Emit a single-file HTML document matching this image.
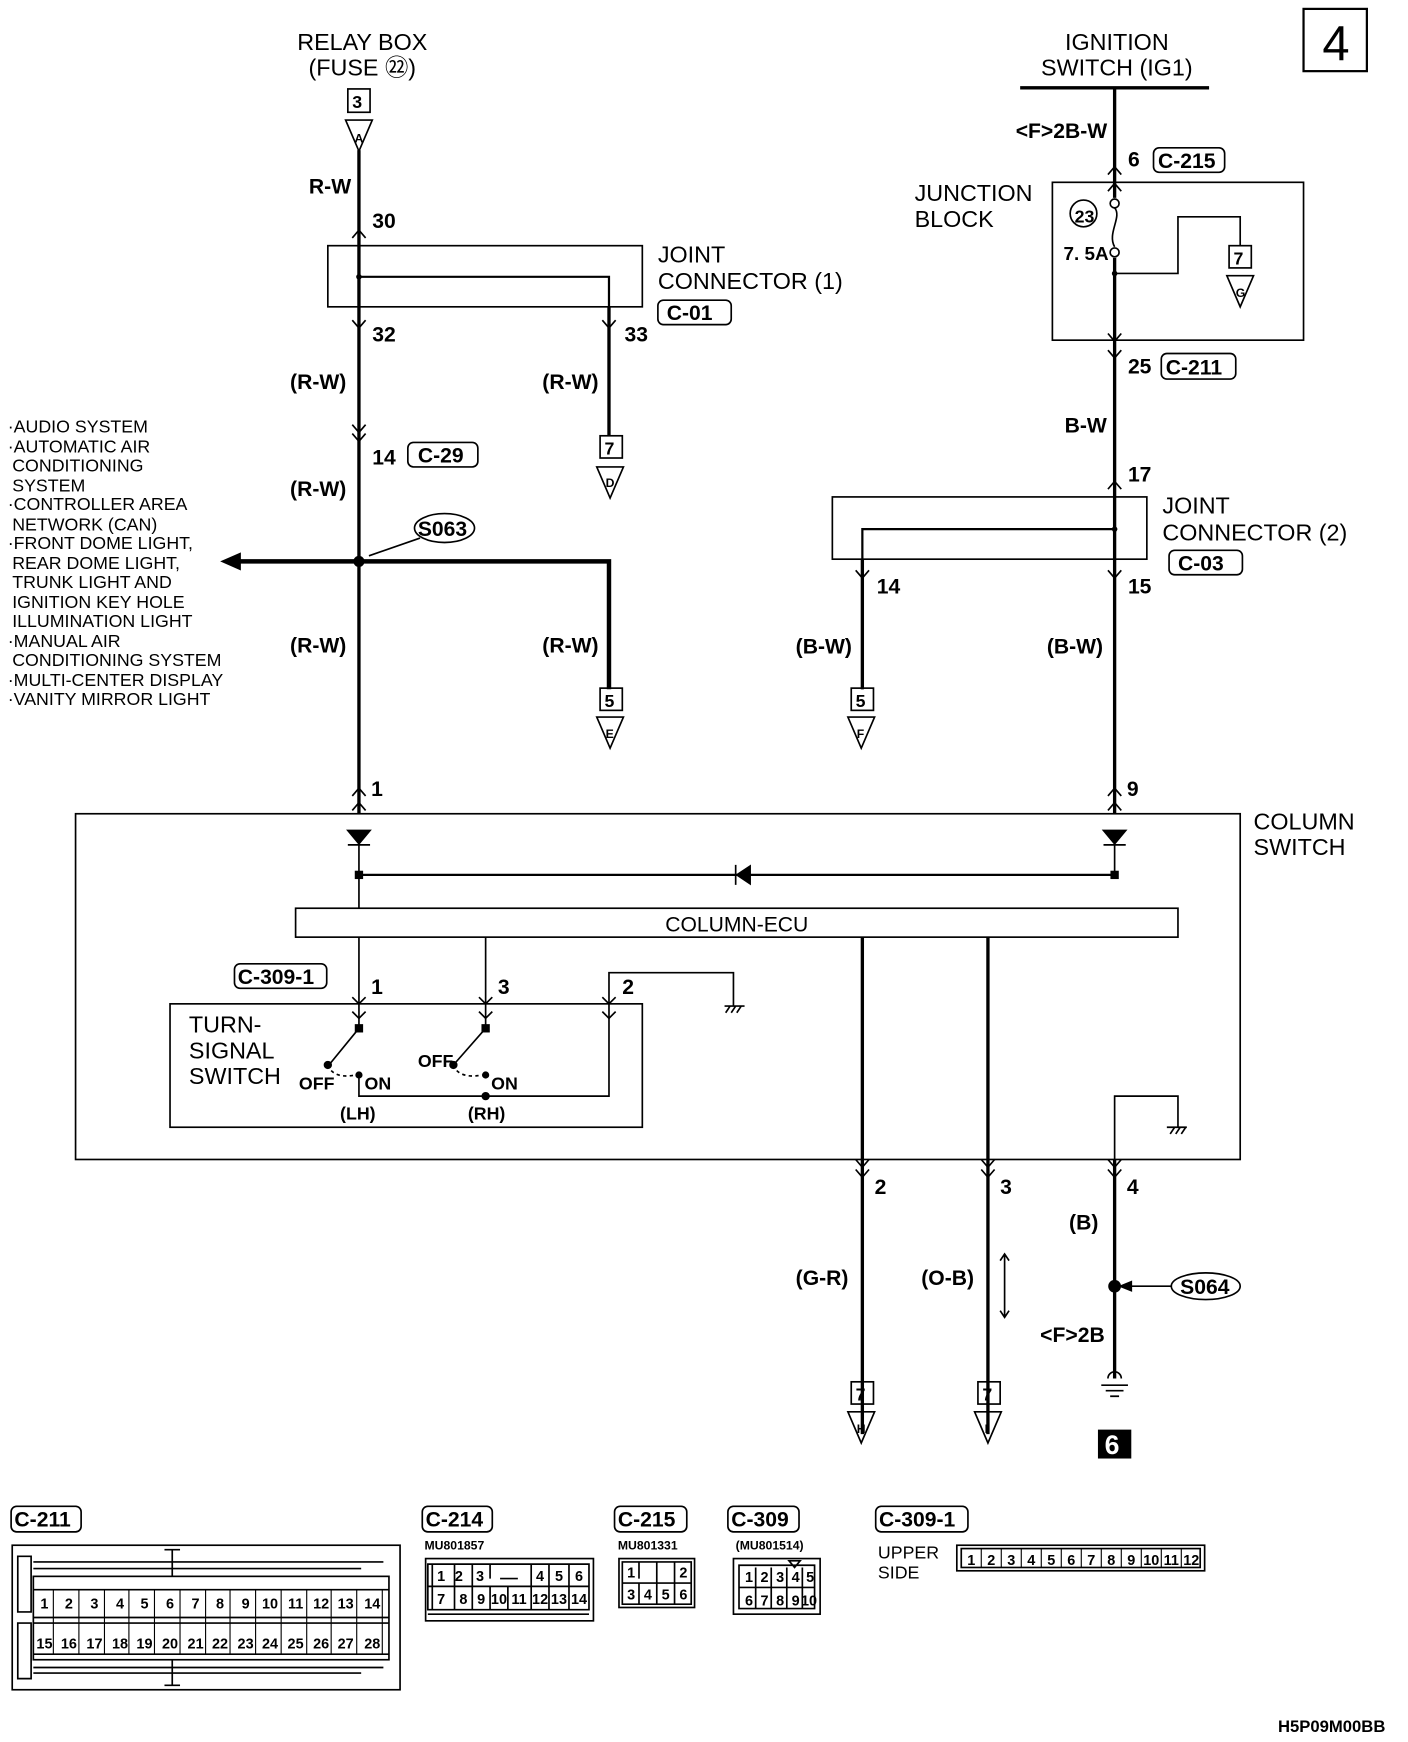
<!DOCTYPE html>
<html><head><meta charset="utf-8"><style>
html,body{margin:0;padding:0;background:#fff}
svg{display:block}
text{font-family:"Liberation Sans",sans-serif;fill:#000}
.b{font-weight:bold;font-family:"Liberation Sans Narrow","Liberation Sans",sans-serif}
</style></head><body>
<svg width="1408" height="1742" viewBox="0 0 1267 1567" preserveAspectRatio="none" xmlns="http://www.w3.org/2000/svg">
<g fill="none" stroke="#000" stroke-width="1.5">
<rect x="1173" y="8" width="57" height="56" stroke-width="2"/>
<line x1="323" y1="135" x2="323" y2="732" stroke-width="3"/>
<rect x="313" y="80" width="20" height="21"/>
<path d="M311 108 L335 108 L323 136 Z"/>
<rect x="295" y="221" width="283" height="55"/>
<path d="M323 249 H548 V392" stroke-width="2"/>
<path d="M548 276 V392" stroke-width="3"/>
<rect x="540" y="392" width="20" height="20"/>
<path d="M537 420 L561 420 L549 448 Z"/>
<path d="M317 214 L323 207 L329 214 M317 288 L323 295 L329 288 M542 288 L548 295 L554 288 M317 382 L323 389 L329 382 M317 390 L323 397 L329 390 M317 716 L323 709 L329 716"/>
<ellipse cx="400" cy="475" rx="27" ry="13"/>
<line x1="378" y1="484" x2="332" y2="500"/>
<path d="M325 505 H548 V620" stroke-width="4"/>
<line x1="215" y1="505" x2="323" y2="505" stroke-width="4"/>
<path d="M200 505 L216 498 L216 512 Z" fill="#000"/>
<rect x="540" y="619" width="20" height="20"/>
<path d="M537 645 L561 645 L549 673 Z"/>
<line x1="918" y1="79" x2="1088" y2="79" stroke-width="3"/>
<line x1="1003" y1="79" x2="1003" y2="178" stroke-width="3"/>
<line x1="1003" y1="232" x2="1003" y2="732" stroke-width="3"/>
<path d="M1003 187 C1010 195 996 210 1003 222"/>
<circle cx="1003" cy="183" r="4" fill="#fff"/>
<circle cx="1003" cy="227" r="4" fill="#fff"/>
<circle cx="975" cy="192" r="12"/>
<rect x="947" y="164" width="226" height="142"/>
<path d="M1003 246 H1060 V195 H1116 V221"/>
<rect x="1106" y="221" width="20" height="20"/>
<path d="M1104 248 L1128 248 L1116 276 Z"/>
<path d="M997 157 L1003 150 L1009 157 M997 172 L1003 165 L1009 172 M997 300 L1003 307 L1009 300 M997 315 L1003 322 L1009 315 M997 440 L1003 433 L1009 440 M997 513 L1003 520 L1009 513 M770 513 L776 520 L782 513 M997 716 L1003 709 L1009 716"/>
<rect x="1045" y="318" width="67" height="23" rx="5"/>
<rect x="1038" y="133" width="64" height="22" rx="5"/>
<rect x="592" y="270" width="66" height="22" rx="5"/>
<rect x="367" y="398" width="63" height="22" rx="5"/>
<rect x="1052" y="495" width="66" height="22" rx="5"/>
<rect x="749" y="447" width="283" height="56"/>
<path d="M1003 476 H776 V620" stroke-width="2"/>
<path d="M776 503 V620" stroke-width="3"/>
<rect x="766" y="619" width="20" height="20"/>
<path d="M763 645 L787 645 L775 673 Z"/>
<rect x="68" y="732" width="1048" height="311"/>
<path d="M317 729 L323 722 L329 729 M997 729 L1003 722 L1009 729"/>
<path d="M313 747 L333 747 L323 759 Z M313 760 H333 M993 747 L1013 747 L1003 759 Z M993 760 H1013 M675 779 L675 795 L663 787 Z M662 778 V796" fill="#000"/>
<line x1="323" y1="760" x2="323" y2="817"/>
<line x1="1003" y1="760" x2="1003" y2="787"/>
<line x1="323" y1="787" x2="1003" y2="787" stroke-width="2"/>
<rect x="320" y="784" width="6" height="6" fill="#000"/>
<rect x="1000" y="784" width="6" height="6" fill="#000"/>
<rect x="266" y="817" width="794" height="26"/>
<line x1="323" y1="843" x2="323" y2="925"/>
<line x1="437" y1="843" x2="437" y2="925"/>
<line x1="776" y1="843" x2="776" y2="1290" stroke-width="3"/>
<line x1="889" y1="843" x2="889" y2="1290" stroke-width="3"/>
<path d="M548 985 V875 H660 V905"/>
<path d="M653 911 L657 905 M658 911 L662 905 M663 911 L667 905 M652 905 H670"/>
<path d="M1003 1043 V986 H1060 V1014"/>
<path d="M1053 1020 L1057 1014 M1058 1020 L1062 1014 M1063 1020 L1067 1014 M1050 1014 H1068"/>
<line x1="1003" y1="1043" x2="1003" y2="1240" stroke-width="3"/>
<rect x="211" y="867" width="83" height="22" rx="5"/>
<rect x="153" y="903" width="425" height="111"/>
<path d="M317 897 L323 903 L329 897 M317 910 L323 916 L329 910 M431 897 L437 903 L443 897 M431 910 L437 916 L443 910 M542 897 L548 903 L554 897 M542 910 L548 916 L554 910"/>
<path d="M323 925 L296 958 M437 925 L408 958"/>
<rect x="320" y="922" width="6" height="6" fill="#000"/>
<rect x="434" y="922" width="6" height="6" fill="#000"/>
<circle cx="295" cy="958" r="3" fill="#000"/>
<circle cx="408" cy="958" r="3" fill="#000"/>
<path d="M298 963 Q305 970 320 967 M411 963 Q418 970 434 967" stroke-dasharray="3,3"/>
<circle cx="323" cy="967" r="2.5" fill="#000"/>
<circle cx="437" cy="967" r="2.5" fill="#000"/>
<path d="M323 967 V986 H548 V985"/>
<circle cx="437" cy="986" r="3" fill="#000"/>
<path d="M770 1043 L776 1050 L782 1043 M770 1052 L776 1059 L782 1052 M883 1043 L889 1050 L895 1043 M883 1052 L889 1059 L895 1052 M997 1043 L1003 1050 L1009 1043 M997 1052 L1003 1059 L1009 1052"/>
<path d="M904 1128 V1185 M900 1134 L904 1128 L908 1134 M900 1179 L904 1185 L908 1179"/>
<circle cx="1003" cy="1157" r="5" fill="#000"/>
<ellipse cx="1085" cy="1157" rx="31" ry="12"/>
<line x1="1054" y1="1157" x2="1016" y2="1157"/>
<path d="M1008 1157 L1018 1153 L1018 1161 Z" fill="#000"/>
<path d="M997 1240 A6 6 0 0 1 1009 1240 M991 1246 H1015 M995 1251 H1011 M999 1256 H1007"/>
<rect x="766" y="1243" width="20" height="20"/>
<path d="M763 1270 L787 1270 L775 1298 Z"/>
<rect x="880" y="1243" width="20" height="20"/>
<path d="M877 1270 L901 1270 L889 1298 Z"/>
<rect x="10" y="1355" width="63" height="23" rx="5"/>
<rect x="380" y="1355" width="63" height="23" rx="5"/>
<rect x="553" y="1355" width="65" height="23" rx="5"/>
<rect x="655" y="1355" width="64" height="23" rx="5"/>
<rect x="788" y="1355" width="83" height="23" rx="5"/>
<rect x="11" y="1390" width="349" height="130"/>
<rect x="30" y="1418" width="320" height="75"/>
<path d="M16 1400 H28 V1450 H16 Z M16 1460 H28 V1510 H16 Z M30 1405 H345 M30 1411 H325 M30 1500 H345 M30 1505 H325 M148 1394 H162 M148 1516 H162 M155 1394 V1418 M155 1493 V1516"/>
<path d="M30 1455 H350 M30 1460 H350 M30 1430 H350 M30 1488 H350"/>
<rect x="383" y="1402" width="151" height="56"/>
<path d="M385 1407 H530 V1448 H385 Z M385 1427 H530 M389 1407 V1448 M409 1407 V1448 M425 1407 V1448 M441 1427 V1448 M457 1427 V1448 M478 1407 V1448 M494 1407 V1448 M512 1407 V1448 M441 1407 V1420 M478 1407 V1420 M450 1420 H466 M385 1452 H530"/>
<rect x="557" y="1402" width="68" height="44"/>
<path d="M560 1405 H622 V1443 H560 Z M560 1424 H622 M575 1424 V1443 M591 1405 V1443 M607 1405 V1443 M575 1405 V1420"/>
<rect x="660" y="1402" width="78" height="50"/>
<path d="M665 1408 H733 V1447 H665 Z M665 1428 H733 M680 1410 V1447 M694 1410 V1447 M708 1410 V1447 M722 1410 V1447 M710 1404 L720 1404 L715 1410 Z"/>
<rect x="861" y="1390" width="223" height="23"/>
<rect x="865" y="1393" width="215" height="17"/>
</g>
<g stroke="#000" stroke-width="1">
<path d="M48 1430 V1488 M71 1430 V1488 M94 1430 V1488 M116 1430 V1488 M139 1430 V1488 M162 1430 V1488 M185 1430 V1488 M207 1430 V1488 M230 1430 V1488 M253 1430 V1488 M276 1430 V1488 M298 1430 V1488 M321 1430 V1488 M344 1430 V1488"/>
<path d="M883 1393 V1410 M901 1393 V1410 M919 1393 V1410 M937 1393 V1410 M955 1393 V1410 M973 1393 V1410 M991 1393 V1410 M1009 1393 V1410 M1027 1393 V1410 M1045 1393 V1410 M1063 1393 V1410"/>
</g>
<circle cx="323" cy="505" r="5" fill="#000"/>
<circle cx="323" cy="249" r="2.5" fill="#000"/>
<circle cx="1003" cy="246" r="2.5" fill="#000"/>
<circle cx="1003" cy="476" r="2.5" fill="#000"/>
<rect x="988" y="1286" width="30" height="26" fill="#000"/>
<g font-size="21">
<text x="1190" y="54" font-size="44">4</text>
<text x="326" y="45" text-anchor="middle">RELAY BOX</text>
<text x="326" y="68" text-anchor="middle">(FUSE ㉒)</text>
<text x="1005" y="45" text-anchor="middle">IGNITION</text>
<text x="1005" y="68" text-anchor="middle">SWITCH (IG1)</text>
<text x="592" y="236">JOINT</text>
<text x="592" y="260">CONNECTOR (1)</text>
<text x="823" y="181">JUNCTION</text>
<text x="823" y="204">BLOCK</text>
<text x="1046" y="462">JOINT</text>
<text x="1046" y="486">CONNECTOR (2)</text>
<text x="1128" y="746">COLUMN</text>
<text x="1128" y="769">SWITCH</text>
<text x="663" y="838" text-anchor="middle" font-size="19">COLUMN-ECU</text>
<text x="170" y="929">TURN-</text>
<text x="170" y="952">SIGNAL</text>
<text x="170" y="975">SWITCH</text>
</g>
<g font-size="16">
<text x="7" y="389">·AUDIO SYSTEM</text>
<text x="7" y="407">·AUTOMATIC AIR</text>
<text x="11" y="424">CONDITIONING</text>
<text x="11" y="442">SYSTEM</text>
<text x="7" y="459">·CONTROLLER AREA</text>
<text x="11" y="477">NETWORK (CAN)</text>
<text x="7" y="494">·FRONT DOME LIGHT,</text>
<text x="11" y="512">REAR DOME LIGHT,</text>
<text x="11" y="529">TRUNK LIGHT AND</text>
<text x="11" y="547">IGNITION KEY HOLE</text>
<text x="11" y="564">ILLUMINATION LIGHT</text>
<text x="7" y="582">·MANUAL AIR</text>
<text x="11" y="599">CONDITIONING SYSTEM</text>
<text x="7" y="617">·MULTI-CENTER DISPLAY</text>
<text x="7" y="634">·VANITY MIRROR LIGHT</text>
<text x="790" y="1402">UPPER</text>
<text x="790" y="1420">SIDE</text>
</g>
<g class="b" font-size="19">
<text x="317" y="97" font-size="16">3</text>
<text x="319" y="128" font-size="11">A</text>
<text x="544" y="409" font-size="16">7</text>
<text x="545" y="438" font-size="11">D</text>
<text x="544" y="636" font-size="16">5</text>
<text x="545" y="664" font-size="11">E</text>
<text x="770" y="636" font-size="16">5</text>
<text x="771" y="664" font-size="11">F</text>
<text x="1110" y="238" font-size="16">7</text>
<text x="1112" y="267" font-size="11">G</text>
<text x="770" y="1260" font-size="16">7</text>
<text x="771" y="1289" font-size="11">H</text>
<text x="884" y="1260" font-size="16">7</text>
<text x="886" y="1289" font-size="11">I</text>
<text x="278" y="174">R-W</text>
<text x="335" y="205">30</text>
<text x="335" y="307">32</text>
<text x="562" y="307">33</text>
<text x="261" y="350">(R-W)</text>
<text x="488" y="350">(R-W)</text>
<text x="335" y="418">14</text>
<text x="376" y="416">C-29</text>
<text x="261" y="446">(R-W)</text>
<text x="376" y="482">S063</text>
<text x="261" y="587">(R-W)</text>
<text x="488" y="587">(R-W)</text>
<text x="334" y="716">1</text>
<text x="600" y="288">C-01</text>
<text x="914" y="124">&lt;F&gt;2B-W</text>
<text x="1015" y="150">6</text>
<text x="1042" y="151">C-215</text>
<text x="957" y="234" font-size="17">7. 5A</text>
<text x="967" y="200" font-size="16">23</text>
<text x="1015" y="336">25</text>
<text x="1049" y="337">C-211</text>
<text x="958" y="389">B-W</text>
<text x="1015" y="433">17</text>
<text x="1060" y="513">C-03</text>
<text x="789" y="534">14</text>
<text x="1015" y="534">15</text>
<text x="716" y="588">(B-W)</text>
<text x="942" y="588">(B-W)</text>
<text x="1014" y="716">9</text>
<text x="214" y="885">C-309-1</text>
<text x="334" y="894">1</text>
<text x="448" y="894">3</text>
<text x="560" y="894">2</text>
<text x="269" y="980" font-size="16">OFF</text>
<text x="328" y="980" font-size="16">ON</text>
<text x="376" y="960" font-size="16">OFF</text>
<text x="442" y="980" font-size="16">ON</text>
<text x="306" y="1007" font-size="16">(LH)</text>
<text x="421" y="1007" font-size="16">(RH)</text>
<text x="787" y="1074">2</text>
<text x="900" y="1074">3</text>
<text x="1014" y="1074">4</text>
<text x="962" y="1106">(B)</text>
<text x="716" y="1156">(G-R)</text>
<text x="829" y="1156">(O-B)</text>
<text x="1062" y="1164">S064</text>
<text x="936" y="1207">&lt;F&gt;2B</text>
<text x="994" y="1308" font-size="24" style="fill:#fff">6</text>
<text x="13" y="1373">C-211</text>
<text x="383" y="1373">C-214</text>
<text x="556" y="1373">C-215</text>
<text x="658" y="1373">C-309</text>
<text x="791" y="1373">C-309-1</text>
<text x="382" y="1394" font-size="11">MU801857</text>
<text x="556" y="1394" font-size="11">MU801331</text>
<text x="662" y="1394" font-size="11">(MU801514)</text>
<text x="1150" y="1558" font-size="15">H5P09M00BB</text>
</g>
<g class="b" font-size="13" text-anchor="middle">
<text x="40" y="1447">1</text><text x="62" y="1447">2</text><text x="85" y="1447">3</text><text x="108" y="1447">4</text><text x="130" y="1447">5</text><text x="153" y="1447">6</text><text x="176" y="1447">7</text><text x="198" y="1447">8</text><text x="221" y="1447">9</text><text x="243" y="1447">10</text><text x="266" y="1447">11</text><text x="289" y="1447">12</text><text x="311" y="1447">13</text><text x="335" y="1447">14</text>
<text x="40" y="1483">15</text><text x="62" y="1483">16</text><text x="85" y="1483">17</text><text x="108" y="1483">18</text><text x="130" y="1483">19</text><text x="153" y="1483">20</text><text x="176" y="1483">21</text><text x="198" y="1483">22</text><text x="221" y="1483">23</text><text x="243" y="1483">24</text><text x="266" y="1483">25</text><text x="289" y="1483">26</text><text x="311" y="1483">27</text><text x="335" y="1483">28</text>
<text x="397" y="1422">1</text><text x="413" y="1422">2</text><text x="432" y="1422">3</text><text x="486" y="1422">4</text><text x="503" y="1422">5</text><text x="521" y="1422">6</text>
<text x="397" y="1443">7</text><text x="417" y="1443">8</text><text x="433" y="1443">9</text><text x="449" y="1443">10</text><text x="467" y="1443">11</text><text x="486" y="1443">12</text><text x="503" y="1443">13</text><text x="521" y="1443">14</text>
<text x="568" y="1419">1</text><text x="615" y="1419">2</text><text x="568" y="1439">3</text><text x="583" y="1439">4</text><text x="599" y="1439">5</text><text x="615" y="1439">6</text>
<text x="674" y="1423">1</text><text x="688" y="1423">2</text><text x="702" y="1423">3</text><text x="716" y="1423">4</text><text x="729" y="1423">5</text>
<text x="674" y="1444">6</text><text x="688" y="1444">7</text><text x="702" y="1444">8</text><text x="716" y="1444">9</text><text x="728" y="1444">10</text>
<text x="874" y="1408">1</text><text x="892" y="1408">2</text><text x="910" y="1408">3</text><text x="928" y="1408">4</text><text x="946" y="1408">5</text><text x="964" y="1408">6</text><text x="982" y="1408">7</text><text x="1000" y="1408">8</text><text x="1018" y="1408">9</text><text x="1036" y="1408">10</text><text x="1054" y="1408">11</text><text x="1072" y="1408">12</text>
</g>
</svg>
</body></html>
